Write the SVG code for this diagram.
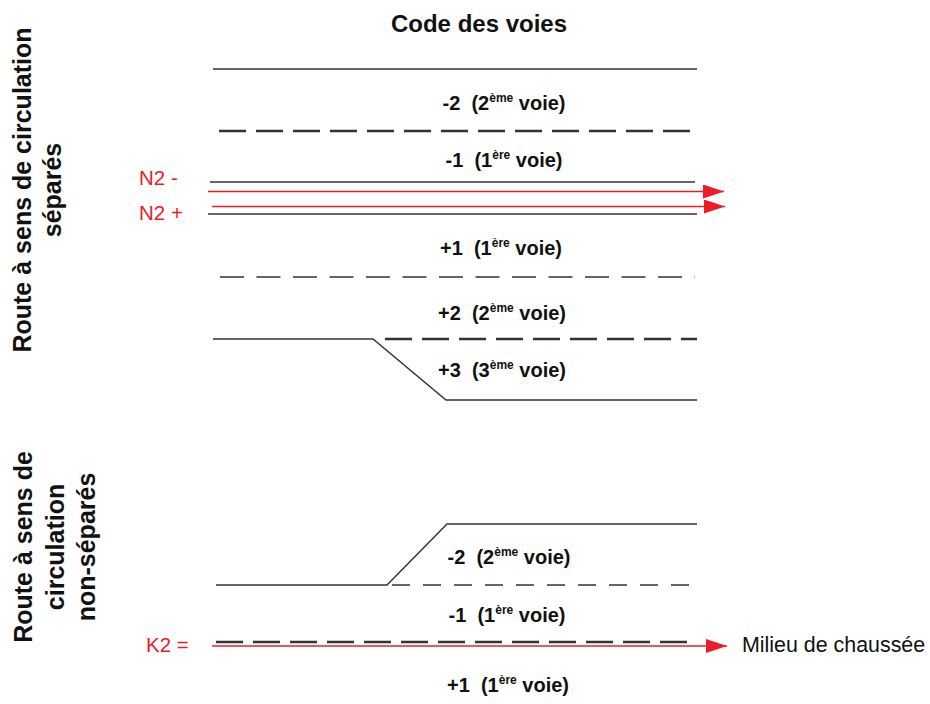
<svg xmlns="http://www.w3.org/2000/svg" width="930" height="704" viewBox="0 0 930 704">
<defs>
<marker id="ah" markerUnits="userSpaceOnUse" markerWidth="22" markerHeight="14" refX="21" refY="7" orient="auto" viewBox="0 0 22 14">
<path d="M0,0 L21,7 L0,14 z" fill="#ee1c24"/>
</marker>
<style>
.t{font-family:"Liberation Sans",Arial,sans-serif;fill:#111}
.b{font-weight:bold}
.lane{font-family:"Liberation Sans",Arial,sans-serif;font-weight:bold;font-size:20px;fill:#111;text-anchor:middle;white-space:pre}
.red{font-family:"Liberation Sans",Arial,sans-serif;font-size:20.5px;fill:#ee1c24}
.side{font-family:"Liberation Sans",Arial,sans-serif;font-weight:bold;font-size:25px;fill:#111;text-anchor:middle}
.solid{stroke:#333;stroke-width:1.4;fill:none}
.dashT{stroke:#333;stroke-width:2.6;stroke-dasharray:27 10;fill:none}
.dashN{stroke:#333;stroke-width:1.6;stroke-dasharray:24 12.5;fill:none}
.dashS{stroke:#333;stroke-width:1.4;stroke-dasharray:18 13;fill:none}
.rl{stroke:#ee1c24;stroke-width:1.4;fill:none}
</style>
</defs>
<g id="title"><text class="t b" x="479" y="32" font-size="24" text-anchor="middle">Code des voies</text></g>
<g id="side-labels">
<text class="side" transform="translate(31,190) rotate(-90)">Route à sens de circulation</text>
<text class="side" transform="translate(61,190) rotate(-90)">séparés</text>
<text class="side" transform="translate(32,547) rotate(-90)">Route à sens de</text>
<text class="side" transform="translate(64,547) rotate(-90)">circulation</text>
<text class="side" transform="translate(95,547) rotate(-90)">non-séparés</text>
</g>
<g id="road-lines">
<line class="solid" x1="213" y1="69" x2="697" y2="69"/>
<line class="dashT" x1="219" y1="131" x2="695" y2="131"/>
<line class="solid" x1="210" y1="182" x2="695" y2="182"/>
<line class="solid" x1="208" y1="214" x2="697" y2="214"/>
<line class="dashN" x1="220" y1="277" x2="695" y2="277"/>
<polyline class="solid" points="213,339 373,339 446,400 697,400"/>
<line class="dashT" x1="385" y1="339" x2="697" y2="339"/>
<polyline class="solid" points="216,585 387,585 447,524 697,524"/>
<line class="dashS" x1="392" y1="585" x2="697" y2="585"/>
<line class="dashT" x1="216" y1="642" x2="695" y2="642"/>
</g>
<g id="connectors">
<line class="rl" x1="208" y1="191.5" x2="724" y2="191.5" marker-end="url(#ah)"/>
<line class="rl" x1="212" y1="206.5" x2="725" y2="206.5" marker-end="url(#ah)"/>
<line class="rl" x1="212" y1="646" x2="727" y2="646" marker-end="url(#ah)"/>
</g>
<g id="reference-labels">
<text class="red" x="139" y="185">N2 -</text>
<text class="red" x="139" y="220">N2 +</text>
<text class="red" x="146" y="652" font-size="18.5">K2 =</text>
<text class="t" x="742" y="652" font-size="21.4">Milieu de chaussée</text>
</g>
<g id="lane-labels" xml:space="preserve">
<text class="lane" x="504" y="110">-2  (2<tspan font-size="12" dy="-8">ème</tspan><tspan dy="8"> voie)</tspan></text>
<text class="lane" x="504" y="167">-1  (1<tspan font-size="12" dy="-8">ère</tspan><tspan dy="8"> voie)</tspan></text>
<text class="lane" x="501" y="255">+1  (1<tspan font-size="12" dy="-8">ère</tspan><tspan dy="8"> voie)</tspan></text>
<text class="lane" x="502" y="320">+2  (2<tspan font-size="12" dy="-8">ème</tspan><tspan dy="8"> voie)</tspan></text>
<text class="lane" x="502" y="377">+3  (3<tspan font-size="12" dy="-8">ème</tspan><tspan dy="8"> voie)</tspan></text>
<text class="lane" x="509" y="564">-2  (2<tspan font-size="12" dy="-8">ème</tspan><tspan dy="8"> voie)</tspan></text>
<text class="lane" x="507" y="622">-1  (1<tspan font-size="12" dy="-8">ère</tspan><tspan dy="8"> voie)</tspan></text>
<text class="lane" x="508" y="692">+1  (1<tspan font-size="12" dy="-8">ère</tspan><tspan dy="8"> voie)</tspan></text>
</g>
</svg>
